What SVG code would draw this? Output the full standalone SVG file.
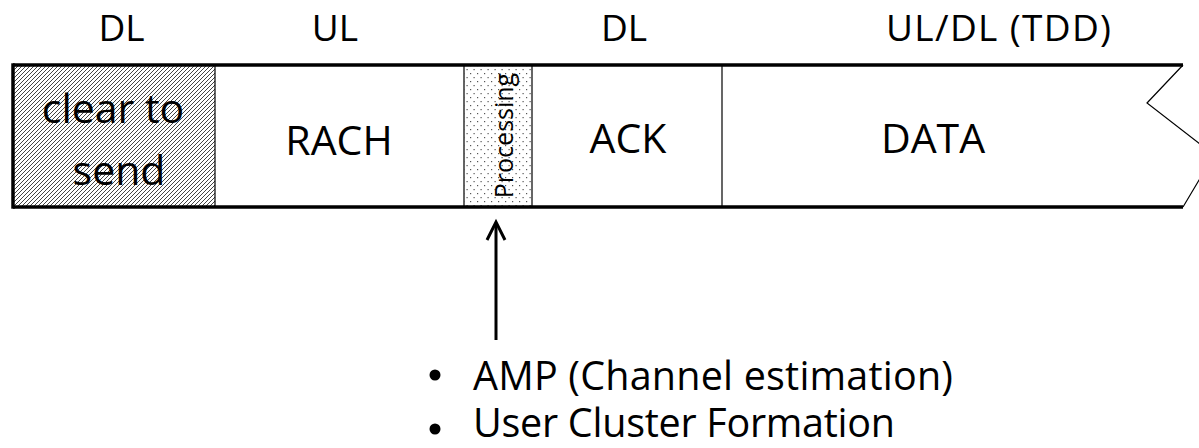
<svg xmlns="http://www.w3.org/2000/svg" width="1199" height="448" viewBox="0 0 1199 448">
<style>
text{font-family:"Open Sans","Liberation Sans",sans-serif;fill:#000}
.top{font-size:37px;text-anchor:middle}
.lbl{font-size:41px;text-anchor:middle}
.bul{font-size:39.5px}
.thin{stroke:#000;stroke-width:1.2;fill:none}
.thick{stroke:#000;stroke-width:3.5;fill:none}
</style>
<defs>
<pattern id="hatch" width="4" height="4" patternUnits="userSpaceOnUse">
<rect width="4" height="4" fill="#fff"/>
<path d="M-1,1 L1,-1 M0,4 L4,0 M3,5 L5,3" stroke="#444" stroke-width="1"/>
</pattern>
<pattern id="dots" width="7" height="8" patternUnits="userSpaceOnUse">
<rect width="7" height="8" fill="#fff"/>
<rect x="1" y="1" width="1.2" height="1.2" fill="#555"/>
<rect x="4.5" y="5" width="1.2" height="1.2" fill="#555"/>
</pattern>
</defs>
<g id="labels">
<text class="top" x="121.5" y="41">DL</text>
<text class="top" x="335" y="41">UL</text>
<text class="top" x="624" y="41">DL</text>
<text class="top" x="998.5" y="41" textLength="225">UL/DL (TDD)</text>
</g>
<g id="cts">
<rect x="13" y="65" width="202" height="142" fill="url(#hatch)"/>
<line class="thin" x1="215" y1="65" x2="215" y2="207"/>
<text class="lbl" x="113" y="123" font-size="42.5">clear to</text>
<text class="lbl" x="119" y="185" font-size="42.5">send</text>
</g>
<g id="rach">
<text class="lbl" x="339" y="155">RACH</text>
</g>
<g id="processing">
<rect x="464" y="65" width="68" height="142" fill="url(#dots)" stroke="#000" stroke-width="1.2"/>
<text transform="translate(513,135.5) rotate(-90)" x="0" y="0" text-anchor="middle" font-size="25">Processing</text>
</g>
<g id="ack">
<text class="lbl" x="628" y="153">ACK</text>
<line class="thin" x1="722" y1="65" x2="722" y2="207"/>
</g>
<g id="data">
<text class="lbl" x="933" y="153" font-size="39">DATA</text>
</g>
<g id="frame">
<line class="thick" x1="13" y1="65" x2="1183" y2="65"/>
<line class="thick" x1="13" y1="207" x2="1183" y2="207"/>
<line class="thick" x1="13" y1="63.3" x2="13" y2="208.7"/>
<polyline class="thin" points="1183,65 1147,103 1214,155 1183,207"/>
</g>
<g id="connectors">
<line x1="496" y1="340" x2="496" y2="224" stroke="#000" stroke-width="3"/>
<path d="M487,240 L496,222 L505,240" fill="none" stroke="#000" stroke-width="3" stroke-linejoin="miter"/>
</g>
<g id="bullets">
<circle cx="435" cy="375" r="5.5" fill="#000"/>
<circle cx="435" cy="429" r="5.5" fill="#000"/>
<text class="bul" x="473" y="390" textLength="480">AMP (Channel estimation)</text>
<text class="bul" x="473" y="437" textLength="422">User Cluster Formation</text>
</g>
</svg>
